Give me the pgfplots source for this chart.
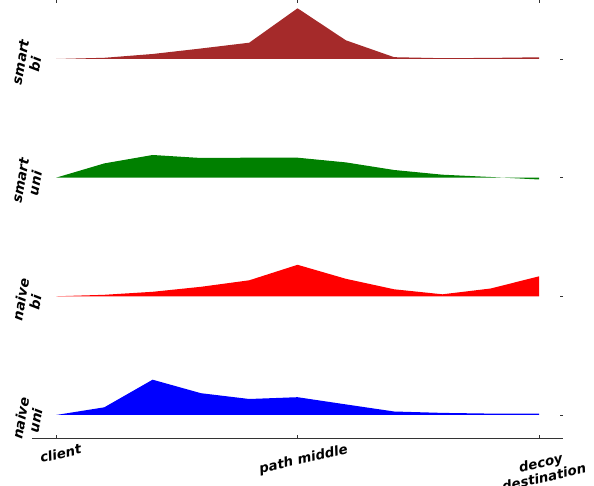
\documentclass[border=0pt]{standalone}
\usepackage{pgfplots}
\pgfplotsset{compat=1.18}
\usepackage{fontspec}
\setmainfont{DejaVu Sans}
\begin{document}
\begin{tikzpicture}
\useasboundingbox (-31.9bp,-48bp) rectangle (562.1bp,438bp);
\begin{axis}[
  at={(0,0)}, anchor=south west,
  scale only axis,
  width=531.3bp, height=438bp,
  xmin=-0.5, xmax=10.5,
  ymin=-23, ymax=415,
  axis line style={draw=none},
  xtick={0,5,10},
  xticklabels={client, path middle, {decoy\\destination}},
  xtick pos=both, xticklabel pos=bottom,
  ytick={0,118.7,237.3,356},
  yticklabels={{naive\\uni},{naive\\bi},{smart\\uni},{smart\\bi}},
  ytick pos=right, yticklabel pos=left,
  tick align=inside,
  major tick length=3bp,
  every tick/.style={black!80, line width=0.6bp},
  xticklabel style={rotate=13, anchor=center, align=center,
    font=\bfseries\itshape\fontsize{13.4}{15}\selectfont,
    yshift={(-16-6.5*\ticknum-3*(\ticknum==2))*1bp},
    xshift={(1-5*(\ticknum==2))*1bp}},
  yticklabel style={rotate=80, anchor=center, align=center,
    font=\bfseries\itshape\fontsize{13.8}{15}\selectfont, xshift=-5bp, yshift=3bp},
  after end axis/.code={\draw[black!80, line width=0.8bp] (rel axis cs:0,0) -- (rel axis cs:1,0);},
  clip=false,
]
% naive uni (baseline 0)
\addplot[fill={rgb,255:red,0;green,0;blue,255}, draw=none] coordinates {
 (0,0) (1,7.7) (2,35.3) (3,21.8) (4,16.0) (5,17.8) (6,10.6) (7,3.5) (8,2.1) (9,1.4) (10,1.4) (10,0)} -- cycle;
% naive bi (baseline 118.7)
\addplot[fill={rgb,255:red,255;green,0;blue,0}, draw=none] coordinates {
 (0,118.7) (1,120.2) (2,123.2) (3,128.2) (4,134.7) (5,150.2) (6,136.2) (7,125.7) (8,120.7) (9,126.5) (10,138.7) (10,118.7)} -- cycle;
% smart uni (baseline 237.3)
\addplot[fill={rgb,255:red,0;green,128;blue,0}, draw=none] coordinates {
 (0,237.3) (1,251.6) (2,260.0) (3,257.0) (4,257.3) (5,257.3) (6,252.6) (7,245.0) (8,240.3) (9,238.0) (10,235.5) (10,237.3)} -- cycle;
% smart bi (baseline 356)
\addplot[fill={rgb,255:red,165;green,42;blue,42}, draw=none] coordinates {
 (0,356) (1,357.2) (2,361.0) (3,366.5) (4,372.3) (5,406.7) (6,374.7) (7,357.8) (8,356.8) (9,357.1) (10,357.7) (10,356)} -- cycle;
\end{axis}
\end{tikzpicture}
\end{document}
